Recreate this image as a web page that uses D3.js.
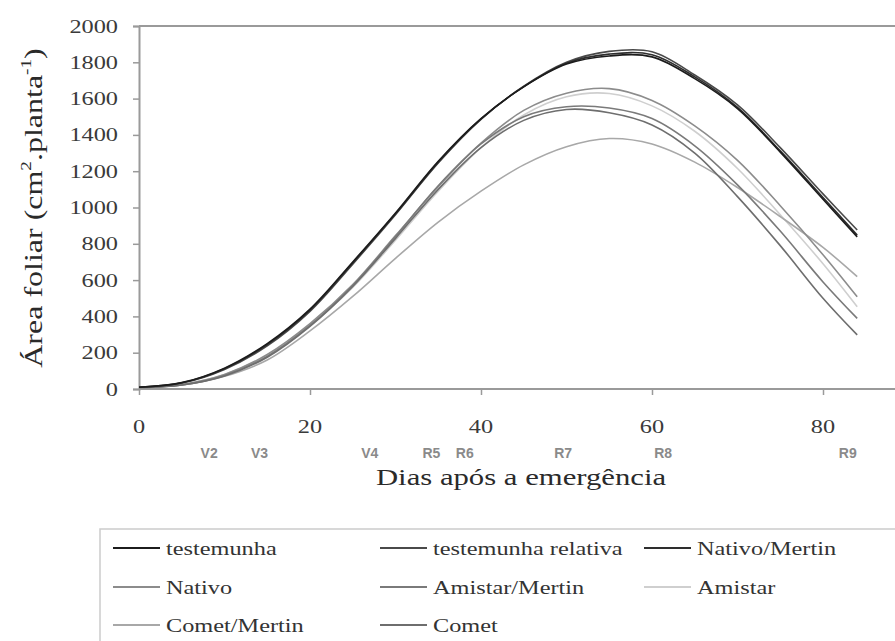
<!DOCTYPE html>
<html>
<head>
<meta charset="utf-8">
<script src="https://cdn.jsdelivr.net/npm/d3@7"></script>
<style>
  html, body { margin: 0; padding: 0; background: #fff; }
  svg { display: block; }
</style>
</head>
<body>
<svg id="chart" width="895" height="641"></svg>
<script>
// ---- Data ----
const days = [0, 5, 10, 15, 20, 25, 30, 35, 40, 45, 50, 55, 60, 65, 70, 75, 80, 84];

const testemunha         = [10, 35, 115, 250, 440, 700, 970, 1255, 1490, 1665, 1790, 1835, 1830, 1710, 1545, 1305, 1045, 838];
const testemunhaRelativa = [10, 33, 108, 238, 428, 688, 960, 1245, 1485, 1668, 1800, 1860, 1858, 1730, 1565, 1330, 1075, 876];
const nativoMertin       = [10, 34, 112, 245, 435, 695, 965, 1250, 1488, 1666, 1795, 1845, 1842, 1720, 1552, 1312, 1055, 848];
const nativo             = [8, 25, 80, 190, 360, 575, 845, 1115, 1355, 1535, 1630, 1655, 1590, 1450, 1260, 1010, 740, 508];
const amistarMertin      = [8, 22, 75, 180, 350, 570, 840, 1120, 1350, 1500, 1555, 1548, 1490, 1340, 1125, 870, 590, 389];
const amistar            = [8, 25, 80, 185, 350, 560, 820, 1090, 1330, 1510, 1610, 1628, 1560, 1420, 1215, 960, 690, 453];
const cometMertin        = [8, 22, 70, 160, 320, 510, 720, 920, 1090, 1235, 1335, 1380, 1350, 1250, 1110, 950, 780, 619];
const comet              = [8, 22, 72, 175, 345, 565, 830, 1100, 1330, 1480, 1540, 1522, 1455, 1300, 1060, 790, 500, 298];

const seriesNames = ["testemunha", "testemunha relativa", "Nativo/Mertin", "Nativo",
                     "Amistar/Mertin", "Amistar", "Comet/Mertin", "Comet"];
const seriesValues = [testemunha, testemunhaRelativa, nativoMertin, nativo,
                      amistarMertin, amistar, cometMertin, comet];
const seriesColors = ["#1c1c1c", "#4a4a4a", "#2e2e2e", "#8c8c8c",
                      "#7a7a7a", "#cfcfcf", "#a8a8a8", "#6e6e6e"];

const xTicks = [0, 20, 40, 60, 80];
const yTicks = [0, 200, 400, 600, 800, 1000, 1200, 1400, 1600, 1800, 2000];
const stageLabels = ["V2", "V3", "V4", "R5", "R6", "R7", "R8", "R9"];
const stageDays   = [8.2, 14.1, 27.0, 34.2, 38.1, 49.6, 61.3, 82.9];

// ---- Layout ----
const svg = d3.select("#chart");
const SX = 1.28;           // horizontal stretch of serif text
const serif = "Liberation Serif, Times New Roman, serif";
const sans = "Liberation Sans, Arial, sans-serif";

const x = d3.scaleLinear().domain([0, 90]).range([139, 908.5]);
const y = d3.scaleLinear().domain([0, 2000]).range([389, 26]);

const axisColor = "#9a9a9a";

// plot frame (top border)
svg.append("line")
  .attr("x1", x(0)).attr("x2", 900)
  .attr("y1", y(2000)).attr("y2", y(2000))
  .attr("stroke", axisColor).attr("stroke-width", 2);

// Y axis
const yAxis = d3.axisLeft(y).tickValues(yTicks).tickSize(6).tickFormat("");
const gy = svg.append("g").attr("transform", `translate(${x(0)},0)`).call(yAxis);
gy.select(".domain").attr("stroke", axisColor).attr("stroke-width", 2);
gy.selectAll(".tick line").attr("stroke", axisColor).attr("stroke-width", 1.5);

// X axis
const xAxis = d3.axisBottom(x).tickValues(xTicks).tickSize(6).tickFormat("");
const gx = svg.append("g").attr("transform", `translate(0,${y(0)})`).call(xAxis);
gx.select(".domain").attr("stroke", axisColor).attr("stroke-width", 2)
  .attr("d", `M${x(0)},0H900`);
gx.selectAll(".tick line").attr("stroke", axisColor).attr("stroke-width", 1.5);

// Y tick labels
svg.append("g").selectAll("text").data(yTicks).join("text")
  .attr("transform", d => `translate(118,${y(d) + 6.5}) scale(${SX},1)`)
  .attr("text-anchor", "end")
  .attr("font-family", serif).attr("font-size", 19).attr("fill", "#3a3a3a")
  .text(d => d);

// X tick labels
svg.append("g").selectAll("text").data(xTicks).join("text")
  .attr("transform", d => `translate(${x(d)},433) scale(${SX},1)`)
  .attr("text-anchor", "middle")
  .attr("font-family", serif).attr("font-size", 19).attr("fill", "#3a3a3a")
  .text(d => d);

// Stage labels
svg.append("g").selectAll("text").data(stageLabels).join("text")
  .attr("x", (d, i) => x(stageDays[i]))
  .attr("y", 458)
  .attr("text-anchor", "middle")
  .attr("font-family", sans).attr("font-size", 14).attr("font-weight", "bold")
  .attr("fill", "#8a8a8a")
  .text(d => d);

// X title
svg.append("text")
  .attr("transform", `translate(521,485) scale(${SX},1)`)
  .attr("text-anchor", "middle")
  .attr("font-family", serif).attr("font-size", 24).attr("fill", "#2a2a2a")
  .text("Dias após a emergência");

// Y title
const yt = svg.append("text")
  .attr("transform", `translate(42,208) rotate(-90) scale(${SX},1)`)
  .attr("text-anchor", "middle")
  .attr("font-family", serif).attr("font-size", 25).attr("fill", "#2a2a2a");
yt.append("tspan").text("Área foliar (cm");
yt.append("tspan").attr("dy", -11).attr("font-size", 15).text("2");
yt.append("tspan").attr("dy", 11).text(".planta");
yt.append("tspan").attr("dy", -11).attr("font-size", 15).text("-1");
yt.append("tspan").attr("dy", 11).text(")");

// Curves
const line = d3.line()
  .x((d, i) => x(days[i]))
  .y(d => y(d))
  .curve(d3.curveCatmullRom.alpha(0.5));

const drawOrder = [5, 6, 3, 4, 7, 1, 2, 0];
svg.append("g").selectAll("path").data(drawOrder).join("path")
  .attr("d", k => line(seriesValues[k]))
  .attr("fill", "none")
  .attr("stroke", k => seriesColors[k])
  .attr("stroke-width", 1.6);

// Legend
const lg = svg.append("g");
lg.append("rect")
  .attr("x", 100).attr("y", 529).attr("width", 900).attr("height", 200)
  .attr("fill", "none").attr("stroke", "#cccccc").attr("stroke-width", 1.5);

const colLineX = [113, 380, 644];
const rowY = [548, 587, 625];
seriesNames.forEach((name, i) => {
  const c = i % 3, r = Math.floor(i / 3);
  const lx = colLineX[c], ly = rowY[r];
  lg.append("line")
    .attr("x1", lx).attr("x2", lx + 47)
    .attr("y1", ly).attr("y2", ly)
    .attr("stroke", seriesColors[i]).attr("stroke-width", 2.2);
  lg.append("text")
    .attr("transform", `translate(${lx + 53},${ly + 7}) scale(${SX},1)`)
    .attr("font-family", serif).attr("font-size", 19).attr("fill", "#333")
    .text(name);
});
</script>
</body>
</html>
